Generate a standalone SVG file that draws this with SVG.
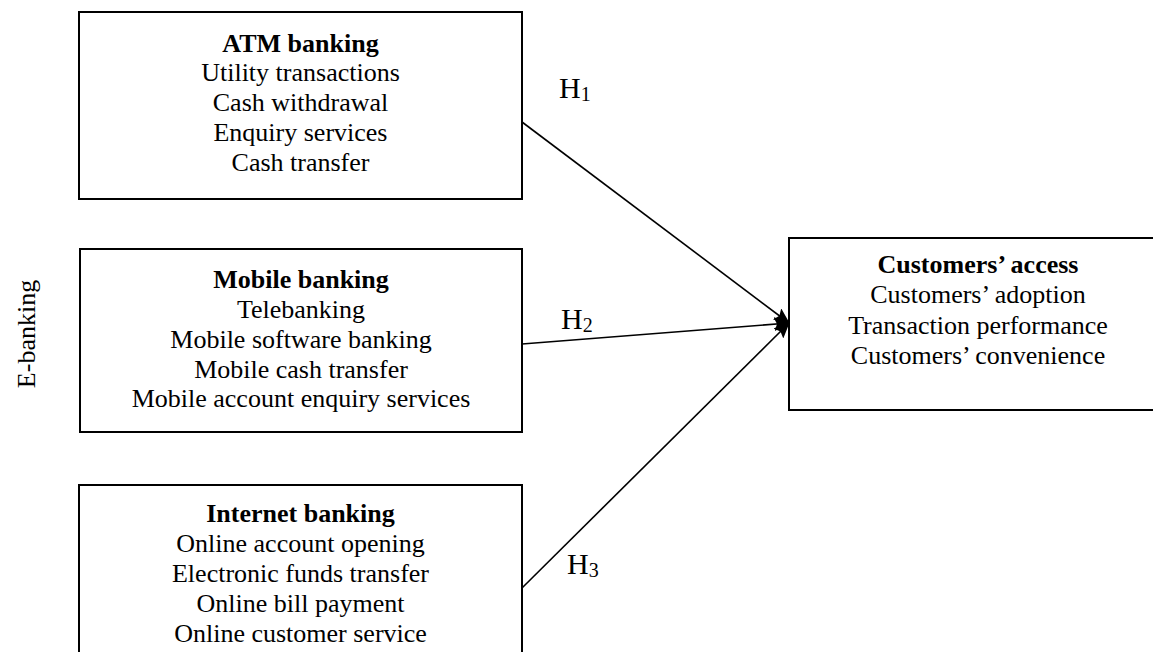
<svg xmlns="http://www.w3.org/2000/svg" width="1153" height="652" viewBox="0 0 1153 652">
<style>
  .box { fill: #fff; stroke: #000; stroke-width: 2; }
  .t { font-family: "Liberation Serif", "Times New Roman", serif; font-size: 26px; fill: #000; text-anchor: middle; }
  .b { font-weight: bold; }
  .h { font-family: "Liberation Serif", "Times New Roman", serif; font-size: 30px; fill: #000; }
  .sub { font-size: 20px; }
  .conn { stroke: #000; stroke-width: 1.6; fill: none; marker-end: url(#arr); }
</style>
<defs>
  <marker id="arr" viewBox="0 0 16 14" refX="15" refY="7" markerWidth="16" markerHeight="14" markerUnits="userSpaceOnUse" orient="auto">
    <path d="M0,0 L16,7 L0,14 L3,7 Z" fill="#000"/>
  </marker>
</defs>
<rect width="1153" height="652" fill="#fff"/>

<g id="atm">
  <rect class="box" x="79" y="12" width="443" height="187"/>
  <text class="t b" x="300.5" y="52">ATM banking</text>
  <text class="t" x="300.5" y="81">Utility transactions</text>
  <text class="t" x="300.5" y="111">Cash withdrawal</text>
  <text class="t" x="300.5" y="141">Enquiry services</text>
  <text class="t" x="300.5" y="171">Cash transfer</text>
</g>

<g id="mobile">
  <rect class="box" x="80" y="249" width="442" height="183"/>
  <text class="t b" x="301" y="288">Mobile banking</text>
  <text class="t" x="301" y="318">Telebanking</text>
  <text class="t" x="301" y="348">Mobile software banking</text>
  <text class="t" x="301" y="378">Mobile cash transfer</text>
  <text class="t" x="301" y="407">Mobile account enquiry services</text>
</g>

<g id="internet">
  <rect class="box" x="79" y="485" width="443" height="180"/>
  <text class="t b" x="300.5" y="522">Internet banking</text>
  <text class="t" x="300.5" y="552">Online account opening</text>
  <text class="t" x="300.5" y="582">Electronic funds transfer</text>
  <text class="t" x="300.5" y="612">Online bill payment</text>
  <text class="t" x="300.5" y="642">Online customer service</text>
</g>

<g id="customers">
  <rect class="box" x="789" y="238" width="380" height="172"/>
  <text class="t b" x="978" y="273">Customers’ access</text>
  <text class="t" x="978" y="303">Customers’ adoption</text>
  <text class="t" x="978" y="334">Transaction performance</text>
  <text class="t" x="978" y="364">Customers’ convenience</text>
</g>

<g id="ebanking">
  <text class="t" transform="translate(35,334) rotate(-90)" x="0" y="0">E-banking</text>
</g>

<g id="connectors">
  <line class="conn" x1="522" y1="122" x2="789" y2="323"/>
  <line class="conn" x1="522" y1="344" x2="789" y2="323"/>
  <line class="conn" x1="522" y1="588" x2="789" y2="323"/>
</g>

<g id="labels">
  <text class="h" x="559" y="98">H<tspan class="sub" dy="3">1</tspan></text>
  <text class="h" x="561" y="329">H<tspan class="sub" dy="3">2</tspan></text>
  <text class="h" x="567" y="574">H<tspan class="sub" dy="3">3</tspan></text>
</g>
</svg>
